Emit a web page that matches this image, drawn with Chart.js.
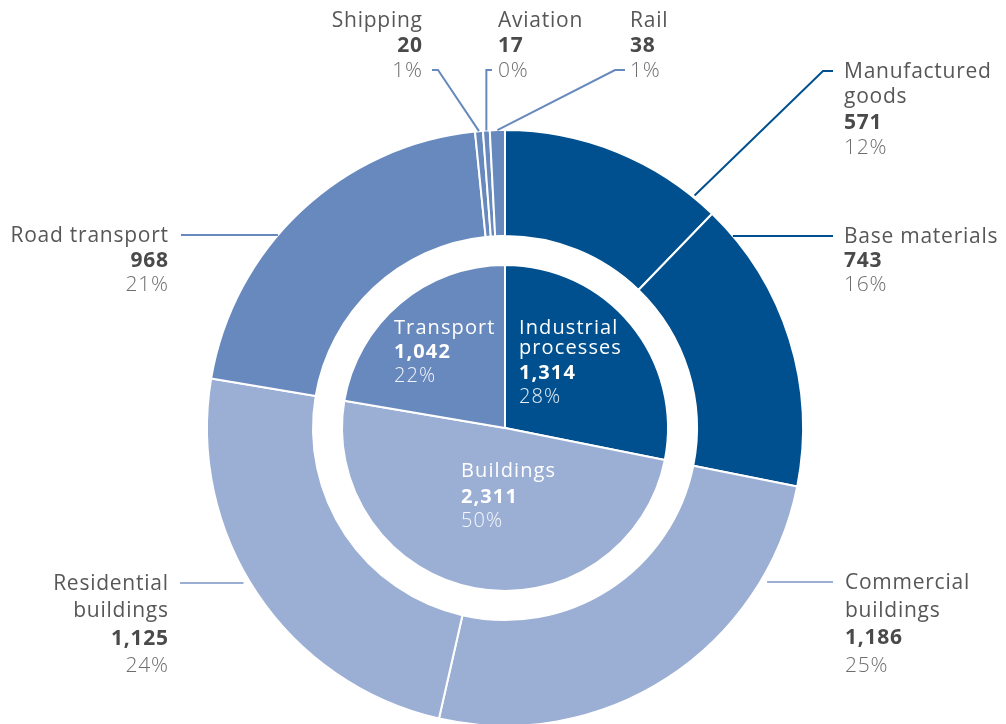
<!DOCTYPE html>
<html>
<head>
<meta charset="utf-8">
<script src="https://cdn.jsdelivr.net/npm/chart.js@4"></script>
<style>
  html, body { margin: 0; padding: 0; background: #fff; }
  #wrap { width: 1006px; height: 724px; position: relative; }
</style>
</head>
<body>
<div id="wrap"><canvas id="c"></canvas></div>
<script>
// ---------- DATA ----------
const subCategories = [
  ['Manufactured', 'goods'], ['Base materials'], ['Commercial', 'buildings'],
  ['Residential', 'buildings'], ['Road transport'], ['Shipping'], ['Aviation'], ['Rail']
];
const subValues = [571, 743, 1186, 1125, 968, 20, 17, 38];
const subPercents = ['12%', '16%', '25%', '24%', '21%', '1%', '0%', '1%'];
const subGroup = [0, 0, 1, 1, 2, 2, 2, 2];

const mainCategories = [['Industrial', 'processes'], ['Buildings'], ['Transport']];
const mainValues = [1314, 2311, 1042];
const mainPercents = ['28%', '50%', '22%'];

// ---------- STYLE ----------
const groupColors = ['#00508F', '#9BAED4', '#6889BD'];
const FONT = '"Open Sans", "DejaVu Sans", sans-serif';

// label layout (positions only)
const outerLayout = [
  { x: 844, y: 78,  lh: 25.3, align: 'left',  leader: { kind: 'elbow', frac: 0.89, line: 0, gap: 11, tick: 10, rOff: 2 } },
  { x: 844, y: 243, lh: 24,   align: 'left',  leader: { kind: 'h', line: 0, gap: 11, rOff: 0 } },
  { x: 845, y: 589, lh: 27.5, align: 'left',  leader: { kind: 'h', line: 0, gap: 12, rOff: 6 } },
  { x: 168, y: 590, lh: 27.3, align: 'right', leader: { kind: 'h', line: 0, gap: 12, rOff: 6 } },
  { x: 168, y: 242, lh: 24.5, align: 'right', leader: { kind: 'h', line: 0, gap: 13, rOff: 0 } },
  { x: 422, y: 27,  lh: 25,   align: 'right', leader: { kind: 'elbow', frac: 0.5, line: 2, gap: 10, tick: 6, rOff: 0 } },
  { x: 498, y: 27,  lh: 25,   align: 'left',  leader: { kind: 'vert', frac: 0.5, line: 2, gap: 6, rOff: 0 } },
  { x: 630, y: 27,  lh: 25,   align: 'left',  leader: { kind: 'elbow', frac: 0.5, line: 2, gap: 5, tick: 10, rOff: 0 } }
];
const innerLayout = [
  { x: 519, y: 334, lhs: [20, 25, 24] },
  { x: 461, y: 477, lhs: [26, 24] },
  { x: 394, y: 334, lhs: [23.5, 24] }
];

function fmt(v) { return v.toLocaleString('en-US'); }

function drawText(ctx, text, x, y, align, spacing) {
  // letter-spaced text; handle right alignment without trailing spacing
  ctx.letterSpacing = spacing + 'px';
  if (align === 'right') {
    ctx.textAlign = 'left';
    const w = ctx.measureText(text).width - spacing;
    ctx.fillText(text, x - w, y);
  } else {
    ctx.textAlign = 'left';
    ctx.fillText(text, x, y);
  }
  ctx.letterSpacing = '0px';
}

const labelPlugin = {
  id: 'labels',
  afterDatasetsDraw(chart) {
    const ctx = chart.ctx;
    const outerMeta = chart.getDatasetMeta(0);
    const innerMeta = chart.getDatasetMeta(2);
    ctx.save();
    ctx.textBaseline = 'alphabetic';

    // outer labels + leaders
    outerMeta.data.forEach((arc, i) => {
      const L = outerLayout[i];
      const lines = subCategories[i].map(t => ({ t, font: '400 21px ' + FONT, color: '#575757' }));
      lines.push({ t: fmt(subValues[i]), font: '700 21px ' + FONT, color: '#4a4a4a' });
      lines.push({ t: subPercents[i], font: '300 21px ' + FONT, color: '#6e6e6e' });
      lines.forEach((ln, k) => {
        ctx.font = ln.font;
        ctx.fillStyle = ln.color;
        drawText(ctx, ln.t, L.x, L.y + k * L.lh, L.align, 0.75);
      });

      // leader
      const ld = L.leader;
      const cx = arc.x, cy = arc.y;
      const R = arc.outerRadius + ld.rOff;
      const ly = L.y + ld.line * L.lh - 7;
      const dir = L.align === 'left' ? -1 : 1;
      const x0 = L.x + dir * ld.gap;
      ctx.strokeStyle = groupColors[subGroup[i]];
      ctx.lineWidth = 2;
      ctx.beginPath();
      if (ld.kind === 'h') {
        const dy = ly - cy;
        const dx = Math.sqrt(Math.max(R * R - dy * dy, 0));
        const xe = cx - dir * dx;
        ctx.moveTo(x0, ly);
        ctx.lineTo(xe, ly);
      } else {
        const a = arc.startAngle + ld.frac * (arc.endAngle - arc.startAngle);
        const px = cx + R * Math.cos(a), py = cy + R * Math.sin(a);
        if (ld.kind === 'vert') {
          ctx.moveTo(x0, ly);
          ctx.lineTo(px, ly);
          ctx.lineTo(px, py);
        } else {
          const x1 = x0 + dir * ld.tick;
          ctx.moveTo(x0, ly);
          ctx.lineTo(x1, ly);
          ctx.lineTo(px, py);
        }
      }
      ctx.stroke();
    });

    // inner labels
    innerMeta.data.forEach((arc, i) => {
      const L = innerLayout[i];
      const lines = mainCategories[i].map(t => ({ t, font: '400 20px ' + FONT, color: '#ffffff' }));
      lines.push({ t: fmt(mainValues[i]), font: '700 20px ' + FONT, color: '#ffffff' });
      lines.push({ t: mainPercents[i], font: '300 20px ' + FONT, color: 'rgba(255,255,255,0.9)' });
      let y = L.y;
      lines.forEach((ln, k) => {
        ctx.font = ln.font;
        ctx.fillStyle = ln.color;
        drawText(ctx, ln.t, L.x, y, 'left', 1.1);
        y += L.lhs[k] || 0;
      });
    });
    ctx.restore();
  }
};

new Chart(document.getElementById('c'), {
  type: 'doughnut',
  data: {
    labels: subCategories.map(c => c.join(' ')),
    datasets: [
      {
        data: subValues,
        backgroundColor: subGroup.map(g => groupColors[g]),
        borderColor: '#ffffff',
        borderWidth: 2,
        weight: 106,
        clip: false
      },
      {
        data: [1],
        backgroundColor: 'rgba(0,0,0,0)',
        borderWidth: 0,
        weight: 29,
        clip: false
      },
      {
        data: mainValues,
        backgroundColor: groupColors,
        borderColor: '#ffffff',
        borderWidth: 2,
        weight: 163,
        clip: false
      }
    ]
  },
  options: {
    responsive: true,
    maintainAspectRatio: false,
    animation: false,
    cutout: 0,
    radius: 298,
    layout: { padding: { left: 207, right: 203, top: 132, bottom: 0 } },
    plugins: { legend: { display: false }, tooltip: { enabled: false } },
    events: []
  },
  plugins: [labelPlugin]
});
</script>
</body>
</html>
